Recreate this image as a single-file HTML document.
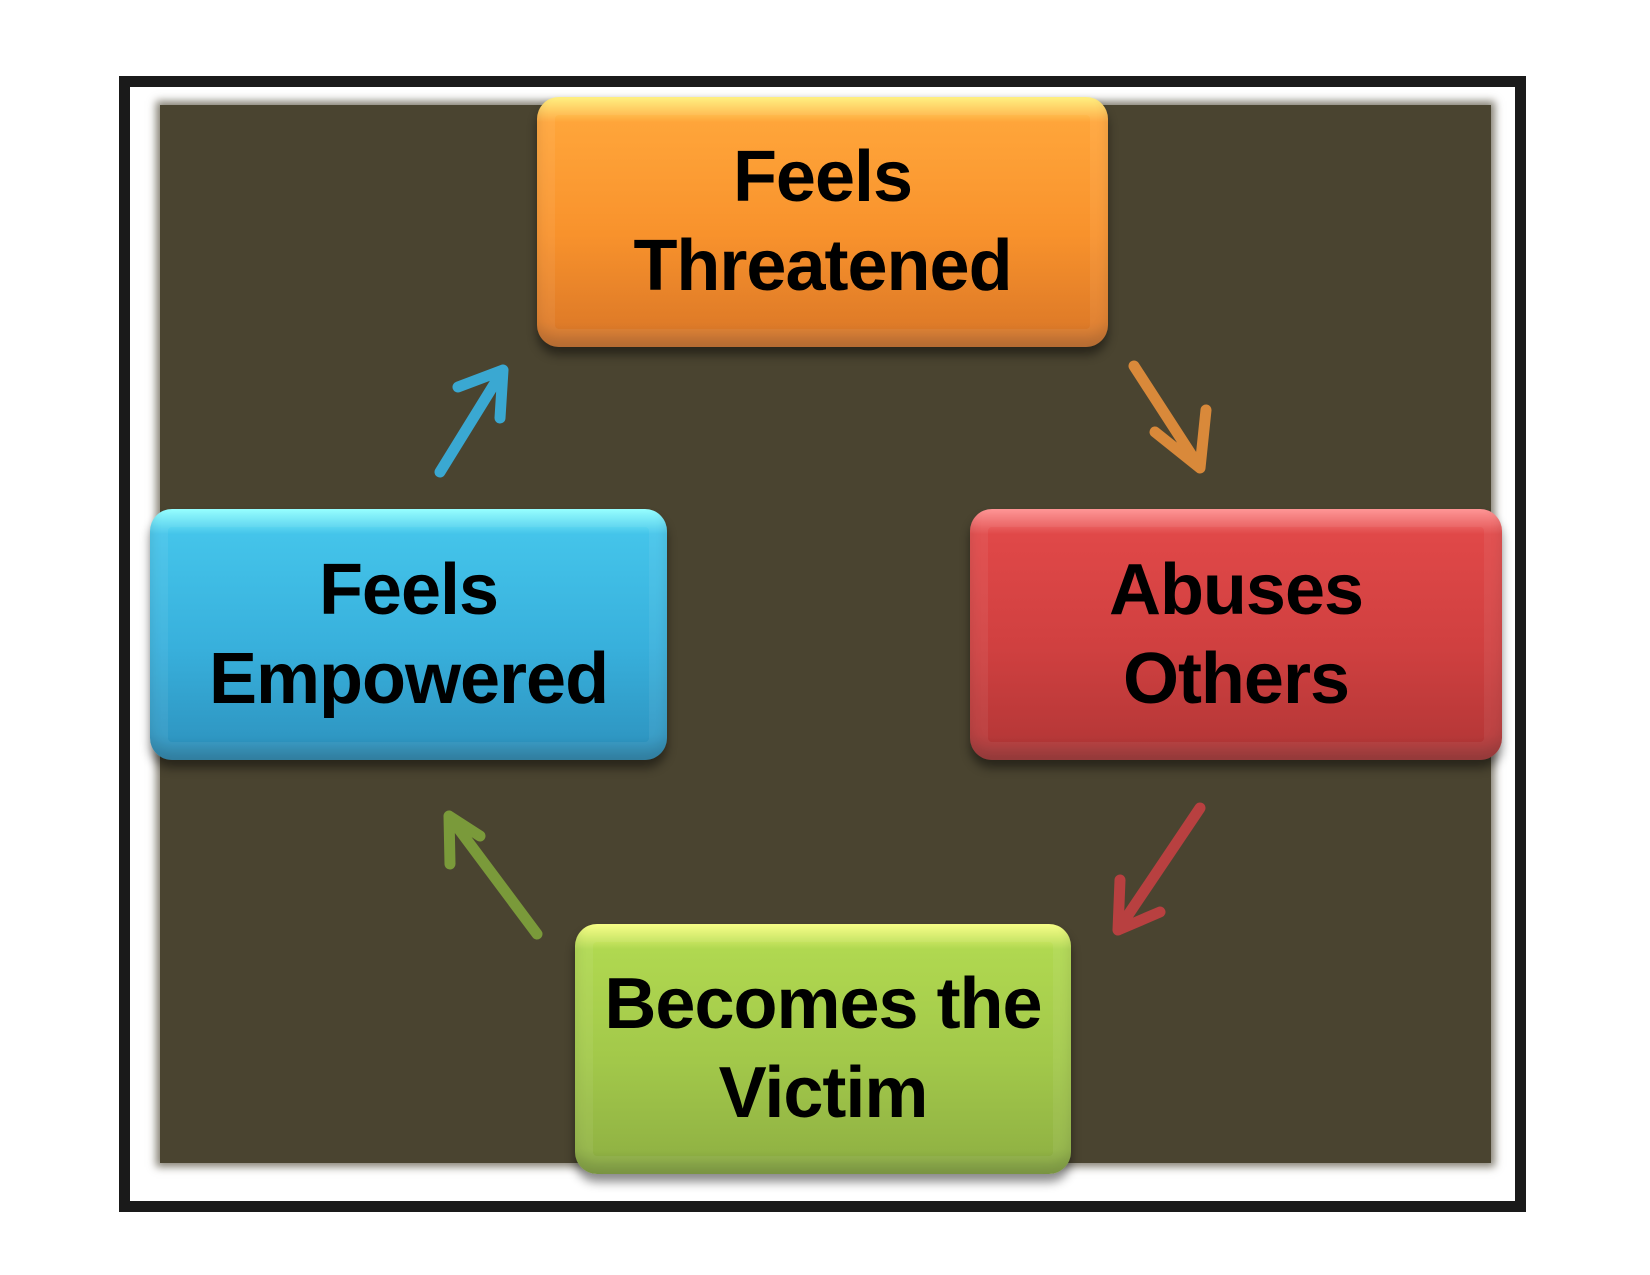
<!DOCTYPE html>
<html><head><style>
body{margin:0;width:1650px;height:1275px;background:#fff;overflow:hidden;position:relative;font-family:"Liberation Sans",sans-serif}
.frame{position:absolute;left:119px;top:76px;width:1385px;height:1114px;border:11px solid #1a1a1a;background:#fff}
.bg{position:absolute;left:160px;top:105px;width:1331px;height:1058px;background:#4a4430;box-shadow:0 0 8px 4px #4a4430aa}
.box{position:absolute;border-radius:22px;display:flex;flex-direction:column;align-items:center;justify-content:center;font-weight:bold;font-size:72px;line-height:89px;color:#000;letter-spacing:-1px;box-shadow:0 8px 10px rgba(0,0,0,.45), inset 0 0 0 18px rgba(255,255,255,.06), inset 0 -10px 12px rgba(0,0,0,.12)}
.box span{display:block}
.o{left:537px;top:97px;width:571px;height:250px;background:linear-gradient(#fff07a 0,#ffa53a 10%,#f8922c 55%,#e07c28 90%,#c8702c 100%)}
.b{left:150px;top:509px;width:517px;height:251px;background:linear-gradient(#90ffff 0,#44c4ea 10%,#38b0dc 55%,#2f98c4 90%,#2a86ae 100%)}
.r{left:970px;top:509px;width:532px;height:251px;background:linear-gradient(#ff9090 0,#e04848 10%,#d04040 55%,#b83838 90%,#a03434 100%)}
.g{left:575px;top:924px;width:496px;height:250px;background:linear-gradient(#f8ff80 0,#b0d850 10%,#a2c84a 55%,#92b444 90%,#80a03e 100%)}
</style></head><body>
<div class="frame"></div>
<div class="bg"></div>
<svg style="position:absolute;left:0;top:0" width="1650" height="1275">
<g fill="none" stroke-width="11" stroke-linecap="round" stroke-linejoin="round">
<path d="M1134 366 L1200 468 M1206 410 L1200 468 L1155 432" stroke="#d9893a"/>
<path d="M440 472 L503 370 M458 387 L503 370 L500 418" stroke="#3aa8d2"/>
<path d="M1200 808 L1118 930 M1120 880 L1118 930 L1160 912" stroke="#b84040"/>
<path d="M537 934 L449 816 M450 864 L449 816 L480 836" stroke="#7a9a3a"/>
</g></svg>
<div class="box o"><span>Feels</span><span>Threatened</span></div>
<div class="box b"><span>Feels</span><span>Empowered</span></div>
<div class="box r"><span>Abuses</span><span>Others</span></div>
<div class="box g"><span>Becomes the</span><span>Victim</span></div>
</body></html>
